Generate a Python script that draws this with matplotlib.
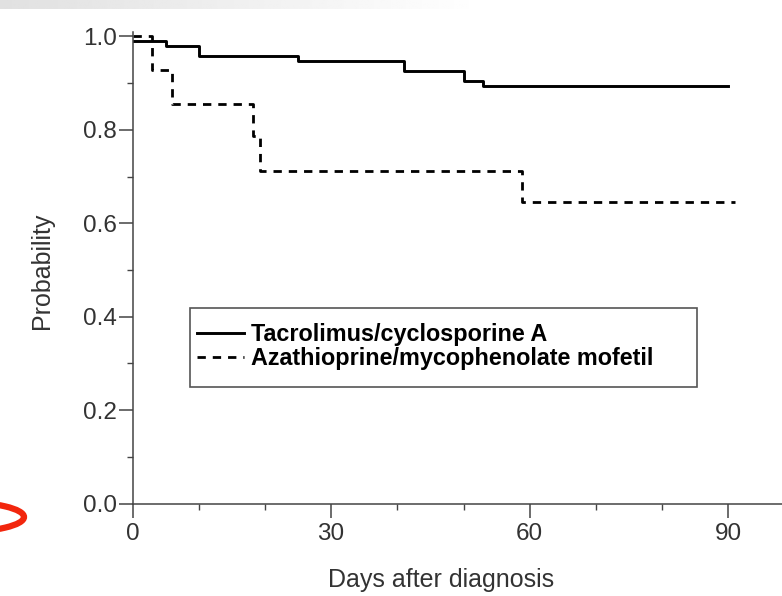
import numpy as np
import matplotlib
matplotlib.use("Agg")
import matplotlib.pyplot as plt
from matplotlib.patches import Rectangle, Ellipse
from matplotlib.ticker import MultipleLocator

plt.rcParams['font.family'] = ['Liberation Sans', 'DejaVu Sans']

# ---- survival curves ---- #
tac_days = [0, 5, 10, 25, 41, 50, 53, 90]
tac_prob = [0.99, 0.979, 0.958, 0.947, 0.926, 0.905, 0.894, 0.894]

aza_days = [0, 3, 6, 18.2, 19.3, 58.9, 91]
aza_prob = [1.0, 0.929, 0.856, 0.787, 0.712, 0.646, 0.646]

labels = ["Tacrolimus/cyclosporine A", "Azathioprine/mycophenolate mofetil"]
x_ticks = [0, 30, 60, 90]
y_ticks = [0.0, 0.2, 0.4, 0.6, 0.8, 1.0]

W, H = 782, 596
fig = plt.figure(figsize=(W / 100, H / 100), dpi=100)

# ---- faint gray band at the top of the page ---- #
band = fig.add_axes([0, 1 - 9 / H, 0.62, 9 / H])
grad = np.linspace(0.88, 1.0, 256)[None, :]
band.imshow(grad, cmap='gray', vmin=0, vmax=1, aspect='auto')
band.axis('off')

ax = fig.add_axes([132.5 / W, 92.5 / H, 649.5 / W, 471.7 / H])

axis_col = '#444444'
ax.step(tac_days, tac_prob, where='post', color='black', lw=2.1, label=labels[0])
ax.step(aza_days, aza_prob, where='post', color='black', lw=2.0,
        linestyle=(0, (3.0, 2.5)), label=labels[1])

ax.set_xlim(0, 98.1)
ax.set_ylim(0, 1.01)

ax.set_xticks(x_ticks)
ax.set_yticks(y_ticks)
ax.set_yticklabels([f"{v:.1f}" for v in y_ticks])
ax.xaxis.set_minor_locator(MultipleLocator(10))
ax.yaxis.set_minor_locator(MultipleLocator(0.1))

ax.tick_params(which='major', direction='out', length=10, width=1.1,
               color=axis_col, labelcolor='#333333', labelsize=17.5)
ax.tick_params(axis='y', which='major', pad=1)
ax.tick_params(axis='x', which='major', pad=4)
ax.tick_params(which='minor', direction='out', length=4, width=1.0, color=axis_col)

for s in ['top', 'right']:
    ax.spines[s].set_visible(False)
for s in ['left', 'bottom']:
    ax.spines[s].set_color(axis_col)
    ax.spines[s].set_linewidth(1.1)

ax.set_xlabel("Days after diagnosis", fontsize=18, color='#333333')
ax.set_ylabel("Probability", fontsize=18, color='#333333')
ax.xaxis.set_label_coords(0.475, -0.136)
ax.yaxis.set_label_coords(-0.121, 0.494)

# ---- legend (box drawn separately) ---- #
ax.add_patch(Rectangle((0.0878, 0.2463), 0.7812, 0.1684, transform=ax.transAxes,
                       fill=False, edgecolor='#555555', lw=1.2, zorder=3))
leg = ax.legend(loc='upper left', bbox_to_anchor=(0.0993, 0.382), frameon=False,
                borderpad=0, borderaxespad=0, handlelength=2.0, handletextpad=0.3,
                labelspacing=0.05, prop={'size': 16.8, 'weight': 'bold'})

# ---- red mark at lower left ---- #
fig.patches.append(Ellipse((-40 / W, (H - 517) / H), 128 / W, 30 / H,
                           transform=fig.transFigure, fill=False,
                           edgecolor='#f2260d', lw=4.5))

fig.savefig('out.png', dpi=100)
